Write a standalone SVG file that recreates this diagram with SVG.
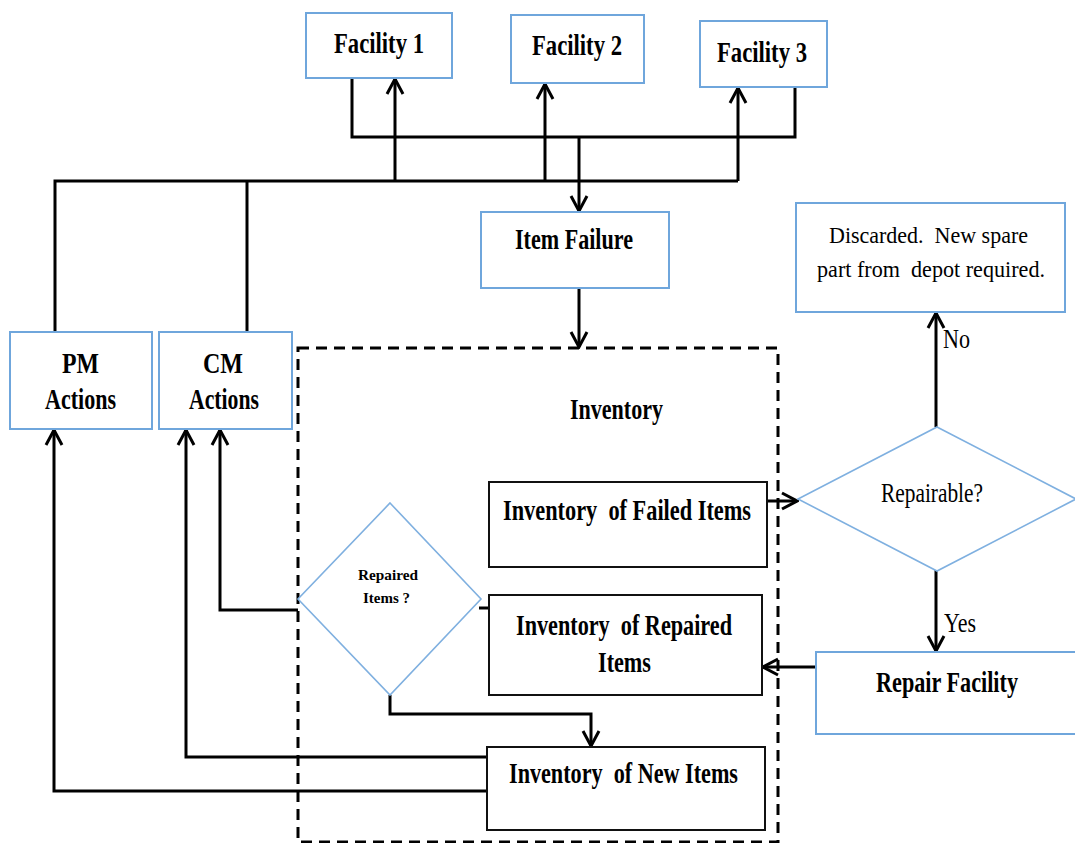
<svg xmlns="http://www.w3.org/2000/svg" width="1075" height="843" viewBox="0 0 1075 843">
  <style>
    .box { fill: #ffffff; stroke: #6fa6dc; stroke-width: 2; }
    .inv { fill: #ffffff; stroke: #111111; stroke-width: 2; }
    .dia { fill: #ffffff; stroke: #7fb0e0; stroke-width: 1.6; }
    .wire { fill: none; stroke: #000000; stroke-width: 3; }
    .frame { fill: none; stroke: #000000; stroke-width: 3; stroke-dasharray: 11 7; }
    .b { font-family: "Liberation Serif", "Times New Roman", serif; font-weight: bold; font-size: 30px; fill: #000000; white-space: pre; }
    .r { font-family: "Liberation Serif", "Times New Roman", serif; font-weight: normal; font-size: 27px; fill: #000000; white-space: pre; }
    .n { font-family: "Liberation Serif", "Times New Roman", serif; font-weight: normal; font-size: 23px; fill: #000000; white-space: pre; }
    .s { font-family: "Liberation Serif", "Times New Roman", serif; font-weight: bold; font-size: 15px; fill: #000000; white-space: pre; }
  </style>
  <defs>
    <marker id="arrow" markerUnits="userSpaceOnUse" viewBox="-18 -10 20 20" markerWidth="20" markerHeight="20" refX="0" refY="0" orient="auto">
      <path d="M-15,-8 L0,0 L-15,8" fill="none" stroke="#000000" stroke-width="3"/>
    </marker>
  </defs>

  <rect width="1075" height="843" fill="#ffffff"/>

  <!-- inventory boundary -->
  <rect id="inventory-frame" class="frame" x="298" y="348" width="480" height="494"/>
  <text class="b" x="570" y="419" textLength="93" lengthAdjust="spacingAndGlyphs">Inventory</text>

  <!-- connectors -->
  <g id="connectors">
    <!-- facility returns to item failure -->
    <polyline class="wire" points="352,78 352,137 795,137 795,87"/>
    <line class="wire" x1="579" y1="137" x2="579" y2="211" marker-end="url(#arrow)"/>
    <!-- maintenance actions to facilities -->
    <polyline class="wire" points="55,333 55,181 738,181"/>
    <line class="wire" x1="247" y1="181" x2="247" y2="333"/>
    <line class="wire" x1="395" y1="181" x2="395" y2="79" marker-end="url(#arrow)"/>
    <line class="wire" x1="545" y1="181" x2="545" y2="84" marker-end="url(#arrow)"/>
    <line class="wire" x1="738" y1="181" x2="738" y2="88" marker-end="url(#arrow)"/>
    <!-- item failure into inventory -->
    <line class="wire" x1="579" y1="289" x2="579" y2="347" marker-end="url(#arrow)"/>
    <!-- failed items to repair decision -->
    <line class="wire" x1="767" y1="501" x2="797" y2="501" marker-end="url(#arrow)"/>
    <line class="wire" x1="936" y1="427" x2="936" y2="313" marker-end="url(#arrow)"/>
    <line class="wire" x1="936" y1="570" x2="936" y2="651" marker-end="url(#arrow)"/>
    <line class="wire" x1="816" y1="667" x2="763" y2="667" marker-end="url(#arrow)"/>
    <!-- repaired items decision -->
    <line class="wire" x1="479" y1="608" x2="489" y2="608"/>
    <polyline class="wire" points="298,610 220,610 220,430" marker-end="url(#arrow)"/>
    <polyline class="wire" points="390,695 390,714 591,714 591,746" marker-end="url(#arrow)"/>
    <!-- new items to maintenance actions -->
    <polyline class="wire" points="487,757 186,757 186,430" marker-end="url(#arrow)"/>
    <polyline class="wire" points="487,791 54,791 54,430" marker-end="url(#arrow)"/>
  </g>

  <g id="facility-1">
    <rect class="box" x="306" y="13" width="146" height="65"/>
    <text class="b" x="334" y="53" textLength="90" lengthAdjust="spacingAndGlyphs">Facility 1</text>
  </g>
  <g id="facility-2">
    <rect class="box" x="511" y="15" width="133" height="68"/>
    <text class="b" x="532" y="55" textLength="90" lengthAdjust="spacingAndGlyphs">Facility 2</text>
  </g>
  <g id="facility-3">
    <rect class="box" x="700" y="21" width="127" height="66"/>
    <text class="b" x="717" y="62" textLength="90" lengthAdjust="spacingAndGlyphs">Facility 3</text>
  </g>
  <g id="item-failure">
    <rect class="box" x="481" y="212" width="188" height="76"/>
    <text class="b" x="515" y="249" textLength="118" lengthAdjust="spacingAndGlyphs">Item Failure</text>
  </g>
  <g id="discarded">
    <rect class="box" x="796" y="203" width="269" height="109"/>
    <text class="n" x="829" y="243" textLength="199" lengthAdjust="spacingAndGlyphs">Discarded.  New spare</text>
    <text class="n" x="817" y="277" textLength="228" lengthAdjust="spacingAndGlyphs">part from  depot required.</text>
  </g>
  <g id="pm-actions">
    <rect class="box" x="10" y="332" width="142" height="97"/>
    <text class="b" x="62" y="373" textLength="37" lengthAdjust="spacingAndGlyphs">PM</text>
    <text class="b" x="45" y="409" textLength="71" lengthAdjust="spacingAndGlyphs">Actions</text>
  </g>
  <g id="cm-actions">
    <rect class="box" x="159" y="332" width="133" height="97"/>
    <text class="b" x="203" y="373" textLength="40" lengthAdjust="spacingAndGlyphs">CM</text>
    <text class="b" x="189" y="409" textLength="70" lengthAdjust="spacingAndGlyphs">Actions</text>
  </g>
  <g id="failed-items">
    <rect class="inv" x="489" y="482" width="278" height="85"/>
    <text class="b" x="503" y="520" textLength="248" lengthAdjust="spacingAndGlyphs">Inventory  of Failed Items</text>
  </g>
  <g id="repaired-items">
    <rect class="inv" x="489" y="595" width="273" height="100"/>
    <text class="b" x="516" y="635" textLength="216" lengthAdjust="spacingAndGlyphs">Inventory  of Repaired</text>
    <text class="b" x="598" y="672" textLength="53" lengthAdjust="spacingAndGlyphs">Items</text>
  </g>
  <g id="new-items">
    <rect class="inv" x="487" y="747" width="278" height="83"/>
    <text class="b" x="509" y="783" textLength="229" lengthAdjust="spacingAndGlyphs">Inventory  of New Items</text>
  </g>
  <g id="repaired-decision">
    <polygon class="dia" points="390,503 481,599 390,695 298,599"/>
    <text class="s" x="358" y="580" textLength="60" lengthAdjust="spacingAndGlyphs">Repaired</text>
    <text class="s" x="363" y="603" textLength="47" lengthAdjust="spacingAndGlyphs">Items ?</text>
  </g>
  <g id="repairable-decision">
    <polygon class="dia" points="937,427 1076,499 937,571 798,499"/>
    <text class="r" x="881" y="502" textLength="102" lengthAdjust="spacingAndGlyphs">Repairable?</text>
  </g>
  <g id="repair-facility">
    <rect class="box" x="816" y="652" width="262" height="82"/>
    <text class="b" x="876" y="692" textLength="142" lengthAdjust="spacingAndGlyphs">Repair Facility</text>
  </g>

  <!-- branch labels -->
  <text class="r" x="943" y="348" textLength="27" lengthAdjust="spacingAndGlyphs">No</text>
  <text class="r" x="944" y="632" textLength="32" lengthAdjust="spacingAndGlyphs">Yes</text>
</svg>
